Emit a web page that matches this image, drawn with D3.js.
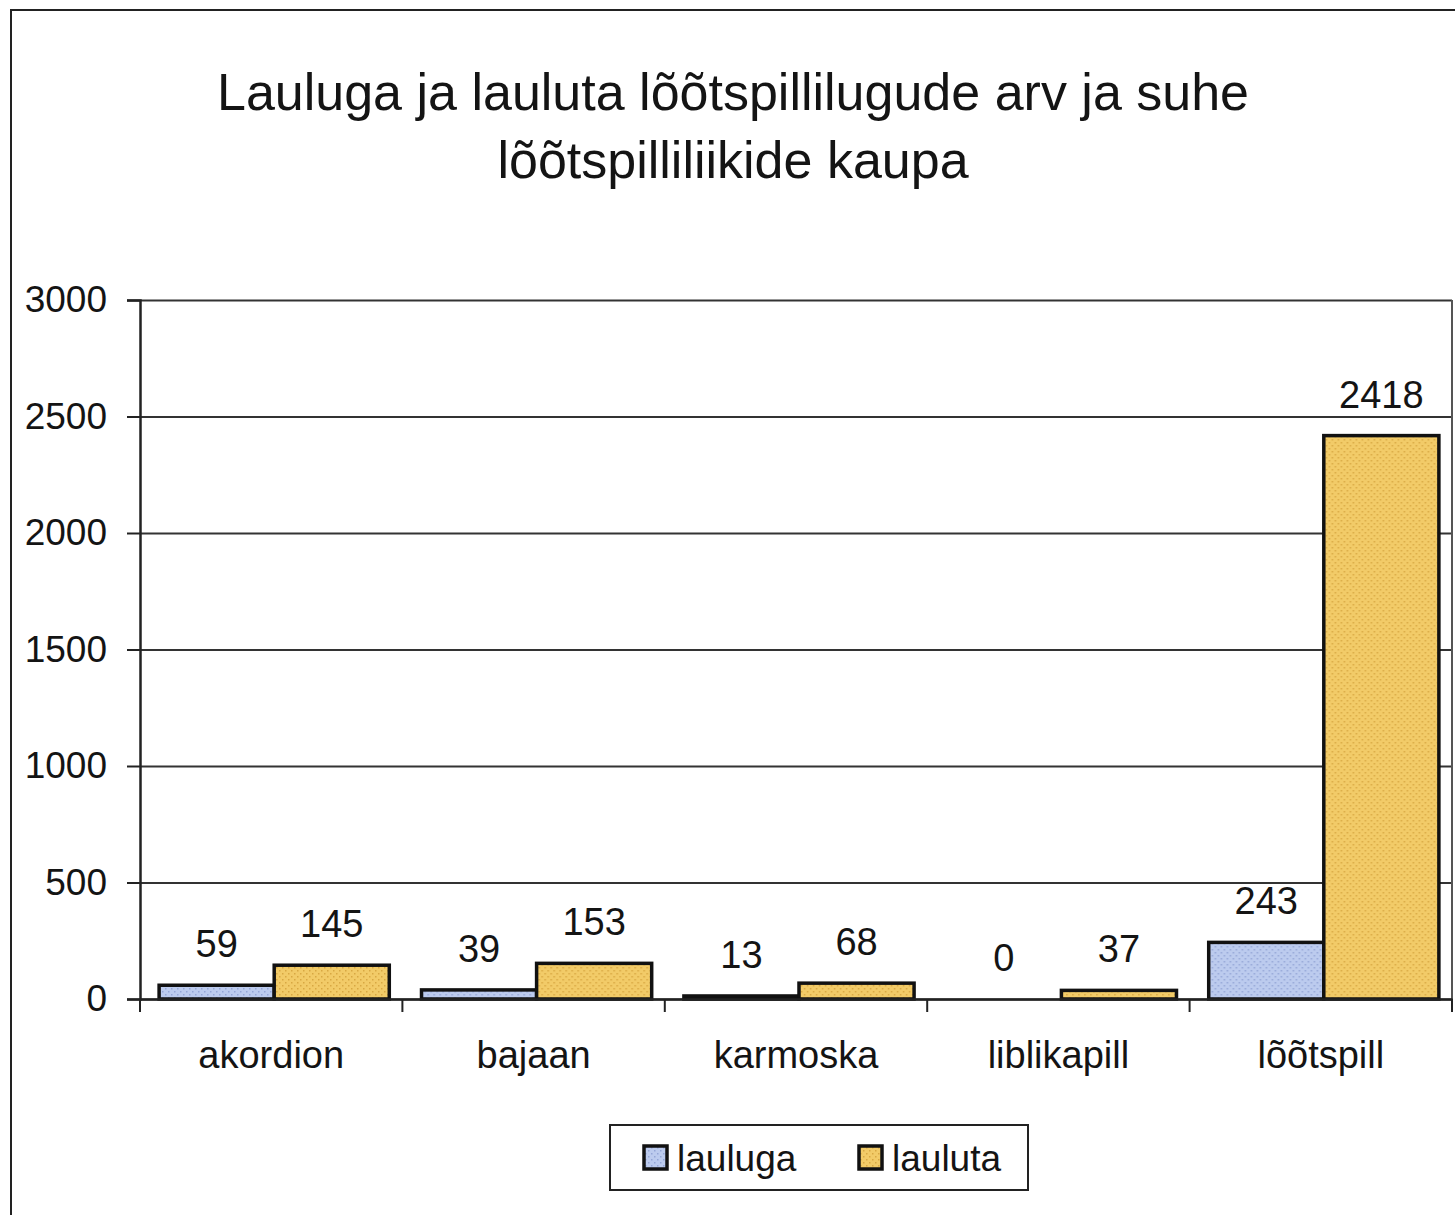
<!DOCTYPE html>
<html>
<head>
<meta charset="utf-8">
<script src="https://cdn.jsdelivr.net/npm/d3@7"></script>
<style>
  body { margin: 0; background: #fff; }
  svg text { font-family: "Liberation Sans", Arial, sans-serif; fill: #141414; }
</style>
</head>
<body>
<svg id="chart" width="1455" height="1215"></svg>
<script>
// data
const categories = ["akordion", "bajaan", "karmoska", "liblikapill", "lõõtspill"];
const seriesNames = ["lauluga", "lauluta"];
const lauluga = [59, 39, 13, 0, 243];
const lauluta = [145, 153, 68, 37, 2418];
const yTicks = [0, 500, 1000, 1500, 2000, 2500, 3000];
const titleLines = ["Lauluga ja lauluta lõõtspillilugude arv ja suhe", "lõõtspilliliikide kaupa"];

const colors = { lauluga: "#bccbee", lauluta: "#f2cb68" };
const dotColors = { lauluga: "#94a6d6", lauluta: "#d8a842" };

const rows = categories.map((c, i) => ({ cat: c, lauluga: lauluga[i], lauluta: lauluta[i] }));

const svg = d3.select("#chart");

// textured fills like the printed original
const defs = svg.append("defs");
seriesNames.forEach(s => {
  const p = defs.append("pattern")
    .attr("id", "pat-" + s)
    .attr("patternUnits", "userSpaceOnUse")
    .attr("width", 6).attr("height", 6);
  p.append("rect").attr("width", 6).attr("height", 6).attr("fill", colors[s]);
  p.append("rect").attr("x", 1).attr("y", 1).attr("width", 1.5).attr("height", 1.5).attr("fill", dotColors[s]);
  p.append("rect").attr("x", 4).attr("y", 4).attr("width", 1.5).attr("height", 1.5).attr("fill", dotColors[s]);
});

// outer chart frame (runs off the page to the right and bottom)
svg.append("rect")
  .attr("x", 11).attr("y", 10)
  .attr("width", 1500).attr("height", 1300)
  .attr("fill", "none").attr("stroke", "#222").attr("stroke-width", 2);

// title
svg.selectAll("text.title")
  .data(titleLines)
  .enter().append("text")
  .attr("class", "title")
  .attr("x", 733)
  .attr("y", (d, i) => 110 + i * 68)
  .attr("text-anchor", "middle")
  .style("font-size", "52px")
  .text(d => d);

const plotLeft = 140, plotRight = 1452, plotTop = 300, plotBottom = 999;

const x = d3.scaleBand().domain(categories).range([plotLeft, plotRight]).padding(0);
const xs = d3.scaleBand().domain(seriesNames).range([0, x.bandwidth()]).paddingInner(0).paddingOuter(0.14);
const y = d3.scaleLinear().domain([0, 3000]).range([plotBottom, plotTop]);

// gridlines
svg.append("g")
  .attr("transform", `translate(${plotLeft},0)`)
  .call(d3.axisLeft(y).tickValues(yTicks).tickSize(-(plotRight - plotLeft)).tickFormat(""))
  .call(g => g.select(".domain").remove())
  .call(g => g.selectAll("line").attr("stroke", "#333").attr("stroke-width", 2));

// plot area right border
svg.append("line")
  .attr("x1", plotRight).attr("x2", plotRight).attr("y1", plotTop).attr("y2", plotBottom)
  .attr("stroke", "#555").attr("stroke-width", 2);

// y axis
svg.append("g")
  .attr("transform", `translate(${plotLeft},0)`)
  .call(d3.axisLeft(y).tickValues(yTicks).tickFormat(d3.format("d")).tickSize(13).tickPadding(20))
  .call(g => g.select(".domain").attr("stroke", "#222").attr("stroke-width", 2.5))
  .call(g => g.selectAll("line").attr("stroke", "#222").attr("stroke-width", 2))
  .call(g => g.selectAll("text").style("font-size", "37px").attr("fill", "#141414")
    .style("font-family", '"Liberation Sans", Arial, sans-serif'));

// bars
const groups = svg.append("g").selectAll("g")
  .data(rows)
  .enter().append("g")
  .attr("transform", d => `translate(${x(d.cat) + 3},0)`);

groups.selectAll("rect")
  .data(d => seriesNames.map(s => ({ s, v: d[s] })))
  .enter().append("rect")
  .attr("x", d => xs(d.s))
  .attr("y", d => y(d.v))
  .attr("width", xs.bandwidth())
  .attr("height", d => plotBottom - y(d.v))
  .attr("fill", d => `url(#pat-${d.s})`)
  .attr("stroke", "#111")
  .attr("stroke-width", 3.5);

// value labels
groups.selectAll("text")
  .data(d => seriesNames.map(s => ({ s, v: d[s] })))
  .enter().append("text")
  .attr("x", d => xs(d.s) + xs.bandwidth() / 2)
  .attr("y", d => y(d.v) - 28)
  .attr("text-anchor", "middle")
  .style("font-size", "38px")
  .text(d => d.v);

// x axis
svg.append("g")
  .attr("transform", `translate(0,${plotBottom})`)
  .call(d3.axisBottom(x).tickSize(0).tickPadding(42))
  .call(g => g.select(".domain").attr("stroke", "#222").attr("stroke-width", 2.5))
  .call(g => g.selectAll("text").style("font-size", "38px").attr("fill", "#141414")
    .style("font-family", '"Liberation Sans", Arial, sans-serif'));

// category separator ticks
svg.append("g")
  .selectAll("line")
  .data(categories.map(c => x(c)).concat([plotRight]))
  .enter().append("line")
  .attr("x1", d => d).attr("x2", d => d)
  .attr("y1", plotBottom).attr("y2", plotBottom + 13)
  .attr("stroke", "#222").attr("stroke-width", 2);

// legend
const legend = svg.append("g").attr("transform", "translate(610,1125)");
legend.append("rect")
  .attr("width", 418).attr("height", 65)
  .attr("fill", "#fff").attr("stroke", "#222").attr("stroke-width", 2);
const items = legend.selectAll("g")
  .data(seriesNames)
  .enter().append("g")
  .attr("transform", (d, i) => `translate(${[34, 249][i]},21)`);
items.append("rect")
  .attr("width", 23).attr("height", 23)
  .attr("fill", d => `url(#pat-${d})`)
  .attr("stroke", "#111").attr("stroke-width", 3.5);
items.append("text")
  .attr("x", 33).attr("y", 25)
  .style("font-size", "37px")
  .text(d => d);
</script>
</body>
</html>
